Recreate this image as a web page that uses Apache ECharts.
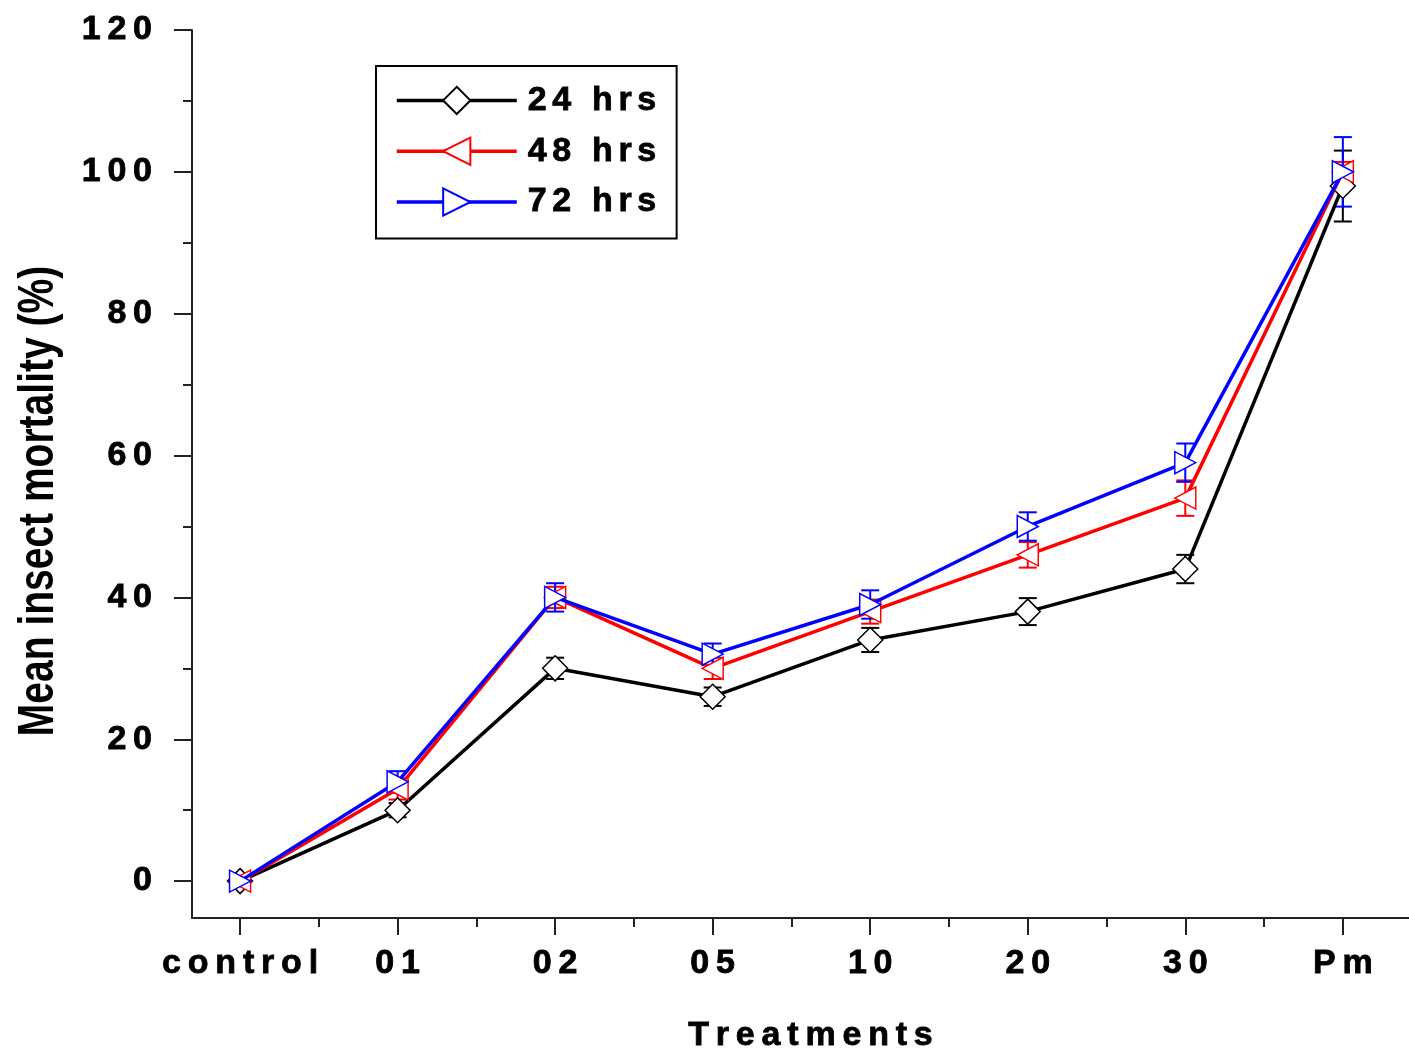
<!DOCTYPE html>
<html>
<head>
<meta charset="utf-8">
<script src="https://cdn.jsdelivr.net/npm/echarts@6/dist/echarts.min.js"></script>
<style>
html,body{margin:0;padding:0;background:#fff;}
#chart{width:1409px;height:1051px;}
</style>
</head>
<body>
<div id="chart"></div>
<script>
// ---- data ----
const categories = ['control', '01', '02', '05', '10', '20', '30', 'Pm'];
const seriesNames = ['24 hrs', '48 hrs', '72 hrs'];
const mean24 = [0, 10, 30, 26, 34, 38, 44, 98];
const err24  = [0, 1.0, 1.5, 1.3, 1.7, 1.9, 2.0, 5.0];
const mean48 = [0, 13, 40, 30, 38, 46, 54, 100];
const err48  = [0, 1.5, 1.5, 1.5, 1.7, 1.8, 2.5, 1.4];
const mean72 = [0, 14, 40, 32, 39, 50, 59, 100];
const err72  = [0, 1.5, 2.0, 1.5, 2.0, 2.0, 2.7, 4.9];
const yMajorTicks = [0, 20, 40, 60, 80, 100, 120];
const yMinorTicks = [10, 30, 50, 70, 90, 110];
const xMajorTicks = [0, 1, 2, 3, 4, 5, 6, 7];
const xMinorTicks = [0.5, 1.5, 2.5, 3.5, 4.5, 5.5, 6.5];
const xTitle = 'Treatments';
const yTitle = 'Mean insect mortality (%)';

function spaced(s, sp) { return String(s).split('').join(sp || '\u2009'); }

const colors = ['#000000', '#ff0000', '#0000ff'];
const means = [mean24, mean48, mean72];
const errs = [err24, err48, err72];
const symbols = ['diamond', 'triangle', 'triangle'];
const symbolSizes = [[25, 25], [22, 21], [22, 21]];
const rotates = [0, 90, -90];

const font = "'Liberation Sans', Arial, sans-serif";
const boldText = { fontFamily: font, fontWeight: 'bold', fontSize: 34, color: '#000', textBorderColor: '#000', textBorderWidth: 0.8 };

const chart = echarts.init(document.getElementById('chart'));

const lineSeries = seriesNames.map((name, i) => ({
  name: name,
  type: 'line',
  xAxisIndex: 0,
  yAxisIndex: 0,
  data: means[i].map((v, j) => [j, v]),
  symbol: symbols[i],
  symbolSize: symbolSizes[i],
  symbolRotate: rotates[i],
  showAllSymbol: true,
  z: 3 + i,
  lineStyle: { color: colors[i], width: 3.5 },
  itemStyle: { color: '#ffffff', borderColor: colors[i], borderWidth: 1.5 },
  emphasis: { disabled: true }
}));

const errSeries = seriesNames.map((name, i) => ({
  name: name + ' err',
  type: 'custom',
  xAxisIndex: 0,
  yAxisIndex: 0,
  z: 1,
  silent: true,
  data: means[i].map((v, j) => [j, v - errs[i][j], v + errs[i][j]]),
  renderItem: function (params, api) {
    const x = api.value(0);
    const lo = api.coord([x, api.value(1)]);
    const hi = api.coord([x, api.value(2)]);
    const hw = 9;
    const st = { stroke: colors[i], lineWidth: 2 };
    return {
      type: 'group',
      children: [
        { type: 'line', shape: { x1: lo[0], y1: lo[1], x2: hi[0], y2: hi[1] }, style: st },
        { type: 'line', shape: { x1: lo[0] - hw, y1: lo[1], x2: lo[0] + hw, y2: lo[1] }, style: st },
        { type: 'line', shape: { x1: hi[0] - hw, y1: hi[1], x2: hi[0] + hw, y2: hi[1] }, style: st }
      ]
    };
  }
}));

const axisLineStyle = { color: '#222', width: 2 };

const option = {
  animation: false,
  backgroundColor: '#ffffff',
  grid: { left: 192, top: 30, right: 0, bottom: 133, containLabel: false, outerBoundsMode: 'none' },
  graphic: [{
    type: 'text',
    x: 39,
    y: 501,
    rotation: Math.PI / 2,
    scaleX: 1,
    scaleY: 1.3,
    silent: true,
    style: {
      text: yTitle,
      font: "bold 39px 'Liberation Sans', Arial, sans-serif",
      fill: '#000',
      align: 'center',
      verticalAlign: 'middle'
    }
  }],
  legend: {
    orient: 'vertical',
    left: 376,
    top: 66,
    data: seriesNames,
    itemWidth: 120,
    itemHeight: 34,
    itemGap: 16,
    padding: [17, 20, 19, 19],
    borderColor: '#000',
    borderWidth: 2,
    symbolRotate: 'inherit',
    lineStyle: { width: 3.5 },
    formatter: function (n) { return spaced(n, '\u2006'); },
    textStyle: Object.assign({}, boldText, { padding: [0, 0, 0, 6] }),
    selectedMode: false
  },
  xAxis: [
    {
      type: 'value',
      min: -0.305,
      max: 7.42,
      name: spaced(xTitle),
      nameLocation: 'middle',
      nameGap: 101,
      nameTextStyle: Object.assign({}, boldText, { padding: [0, 0, 0, 20] }),
      axisLine: { show: true, onZero: false, lineStyle: axisLineStyle },
      axisTick: { show: true, customValues: xMajorTicks, length: 17, lineStyle: axisLineStyle },
      axisLabel: Object.assign({
        customValues: xMajorTicks,
        margin: 29,
        formatter: function (v) { return spaced(categories[Math.round(v)]); }
      }, boldText),
      splitLine: { show: false }
    },
    {
      type: 'value',
      min: -0.305,
      max: 7.42,
      position: 'bottom',
      axisLine: { show: false, onZero: false },
      axisTick: { show: true, customValues: xMinorTicks, length: 9, lineStyle: axisLineStyle },
      axisLabel: { show: false },
      splitLine: { show: false }
    }
  ],
  yAxis: [
    {
      type: 'value',
      min: -5.2,
      max: 120,
      axisLine: { show: true, onZero: false, lineStyle: axisLineStyle },
      axisTick: { show: true, customValues: yMajorTicks, length: 18, lineStyle: axisLineStyle },
      axisLabel: Object.assign({
        customValues: yMajorTicks,
        margin: 40,
        formatter: function (v) { return spaced(v); }
      }, boldText),
      splitLine: { show: false }
    },
    {
      type: 'value',
      min: -5.2,
      max: 120,
      position: 'left',
      axisLine: { show: false, onZero: false },
      axisTick: { show: true, customValues: yMinorTicks, length: 9, lineStyle: axisLineStyle },
      axisLabel: { show: false },
      splitLine: { show: false }
    }
  ],
  series: errSeries.concat(lineSeries)
};

chart.setOption(option);
</script>
</body>
</html>
